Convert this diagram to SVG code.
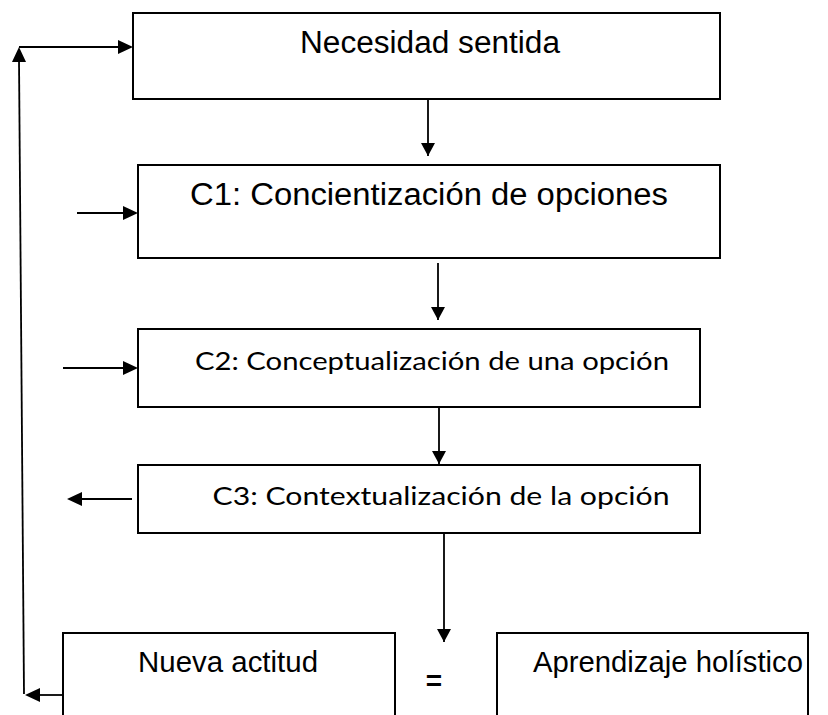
<svg xmlns="http://www.w3.org/2000/svg" width="828" height="715" viewBox="0 0 828 715">
<style>
.box{fill:#fff;stroke:#000;stroke-width:2}
.ln{fill:none;stroke:#000;stroke-width:1.8}
.a{font-family:"Liberation Sans",Arial,sans-serif;fill:#000}
.c{font-family:Lato,"Open Sans",sans-serif;fill:#000}
</style>
<rect width="828" height="715" fill="#fff"/>
<g id="n1"><rect class="box" x="133" y="13" width="587" height="86"/><text class="a" x="430" y="53" font-size="31" text-anchor="middle" textLength="260" lengthAdjust="spacingAndGlyphs">Necesidad sentida</text></g>
<g id="n2"><rect class="box" x="138" y="165" width="582" height="93"/><text class="a" x="429" y="205" font-size="31" text-anchor="middle" textLength="478" lengthAdjust="spacingAndGlyphs">C1: Concientización de opciones</text></g>
<g id="n3"><rect class="box" x="138" y="329" width="562" height="78"/><text class="c" x="432" y="370" font-size="25" text-anchor="middle" textLength="474" lengthAdjust="spacingAndGlyphs">C2: Conceptualización de una opción</text></g>
<g id="n4"><rect class="box" x="138" y="465" width="562" height="68"/><text class="c" x="441" y="505" font-size="25" text-anchor="middle" textLength="457" lengthAdjust="spacingAndGlyphs">C3: Contextualización de la opción</text></g>
<g id="n5"><rect class="box" x="63" y="633" width="332" height="100"/><text class="a" x="228" y="672" font-size="29" text-anchor="middle" textLength="180" lengthAdjust="spacingAndGlyphs">Nueva actitud</text></g>
<g id="n6"><rect class="box" x="497" y="633" width="311" height="100"/><text class="a" x="668" y="672" font-size="29" text-anchor="middle" textLength="270" lengthAdjust="spacingAndGlyphs">Aprendizaje holístico</text></g>
<g id="eq"><text class="a" x="434" y="690" font-size="28" font-weight="bold" text-anchor="middle">=</text></g>
<g id="connectors">
<path d="M428,99 L428,156" class="ln"/><path d="M421,143 L428,156 L435,143 z"/>
<path d="M438,263 L438,320" class="ln"/><path d="M431,307 L438,320 L445,307 z"/>
<path d="M439,407 L439,464" class="ln"/><path d="M432,451 L439,464 L446,451 z"/>
<path d="M444,533 L444,642" class="ln"/><path d="M437,629 L444,642 L451,629 z"/>
<path d="M77,213 L125,213" class="ln"/><path d="M123,206 L138,213 L123,220 z"/>
<path d="M63,368 L125,368" class="ln"/><path d="M123,361 L138,368 L123,375 z"/>
<path d="M132,499 L80,499" class="ln"/><path d="M82,492 L67,499 L82,506 z"/>
<path d="M63,695 L38,695" class="ln"/><path d="M40,688 L25,695 L40,702 z"/>
<path d="M24,694 L19,60" class="ln"/><path d="M12,62 L19,47 L26,62 z"/>
<path d="M19,47 L120,47" class="ln"/><path d="M118,40 L133,47 L118,54 z"/>
</g>
</svg>
